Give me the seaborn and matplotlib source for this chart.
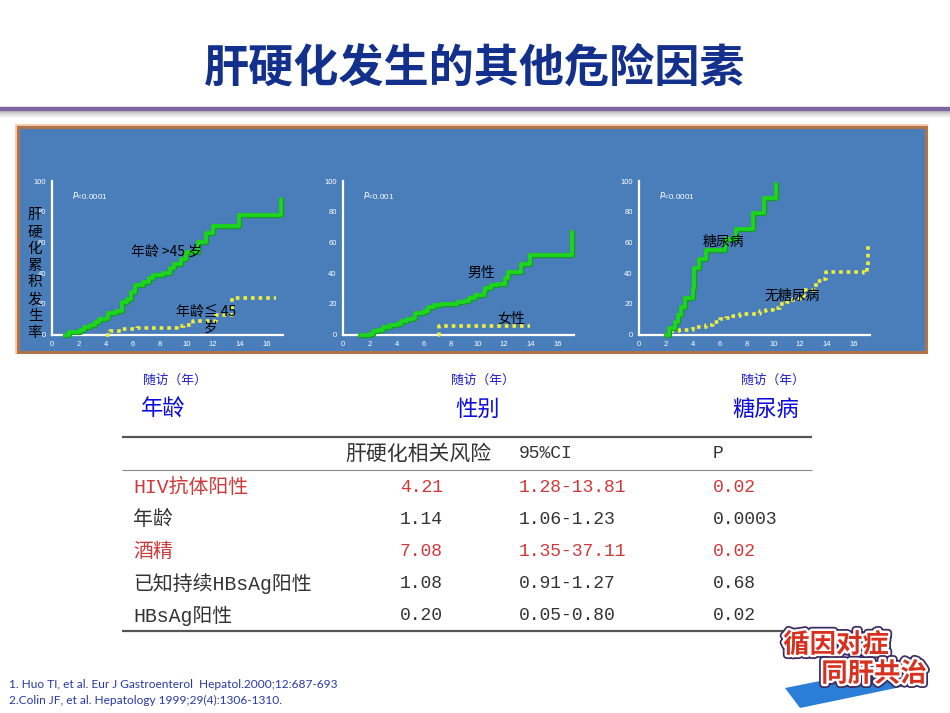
import matplotlib
matplotlib.use("Agg")
import matplotlib.pyplot as plt
import matplotlib.patheffects as pe
from matplotlib.patches import Rectangle, Polygon
import pandas as pd
import seaborn as sns

# ---------------- data ----------------
title = "肝硬化发生的其他危险因素"
ylabel_chars = "肝硬化累积发生率"
x_ticks = [0, 2, 4, 6, 8, 10, 12, 14, 16]
y_ticks = [0, 20, 40, 60, 80, 100]

# panel 1: age
age_gt45_t = [1.0, 1.3, 2.1, 2.4, 2.8, 3.2, 3.5, 4.0, 4.2, 4.8, 5.2, 5.6, 5.9, 6.2, 6.8,
              7.2, 7.5, 8.3, 8.8, 9.1, 9.6, 10.0, 10.9, 11.5, 12.0, 13.9, 17.1]
age_gt45_p = [0, 1.5, 3, 5, 6, 8, 10, 11, 14, 15, 21, 23, 28, 32, 34,
              37, 39, 40, 43, 46, 49, 54, 60, 66, 71, 78, 88]
age_le45_t = [4.05, 4.3, 5.2, 6.3, 8.8, 9.3, 9.8, 10.5, 12.2, 13.4, 16.7]
age_le45_p = [0, 2, 3.5, 4, 4.5, 5.5, 6.5, 8.5, 13, 24, 24]

# panel 2: sex
male_t = [1.25, 2.0, 2.2, 2.6, 3.0, 3.5, 4.0, 4.3, 4.8, 5.2, 5.4, 6.0, 6.3, 6.8, 7.3,
          8.5, 9.0, 9.4, 9.8, 10.5, 10.6, 11.0, 11.5, 12.1, 12.3, 13.3, 13.9, 17.1]
male_p = [0, 0.5, 2, 3, 5, 6, 7, 9, 10, 11, 14, 15, 18, 19, 20,
          21, 22, 24, 26, 28, 30, 32, 33, 37, 41, 46, 52, 67]
female_t = [7.1, 7.15, 13.9]
female_p = [0, 5.5, 5.5]

# panel 3: diabetes
dm_t = [2.0, 2.2, 2.7, 2.9, 3.1, 3.4, 4.0, 4.1, 4.5, 5.0, 6.4, 7.2, 8.5, 9.3, 10.2]
dm_p = [0, 4, 8, 13, 18, 24, 30, 43, 49, 55, 62, 69, 79, 89, 98]
nodm_t = [2.1, 2.3, 3.0, 4.0, 5.0, 5.5, 6.0, 6.5, 7.0, 7.5, 9.0, 9.5, 10.0, 10.5, 11.0,
          11.5, 12.0, 12.3, 13.2, 13.7, 13.9, 16.8, 17.0, 17.1]
nodm_p = [0, 2, 3, 5, 6, 8, 10, 11, 12, 13.5, 15, 16, 17, 20, 21,
          23, 25, 29, 35, 36, 41, 40, 45, 58]

panel_pvals = ["<0.0001", "<0.001", "<0.0001"]
panel_xlabel = "随访（年）"
panel_titles = ["年龄", "性别", "糖尿病"]

# table
table_header = ["肝硬化相关风险", "95%CI", "P"]
factors = ["HIV抗体阳性", "年龄", "酒精", "已知持续HBsAg阳性", "HBsAg阳性"]
rr = ["4.21", "1.14", "7.08", "1.08", "0.20"]
ci = ["1.28-13.81", "1.06-1.23", "1.35-37.11", "0.91-1.27", "0.05-0.80"]
pvals = ["0.02", "0.0003", "0.02", "0.68", "0.02"]
highlight = [True, False, True, False, False]

refs = ["1. Huo TI, et al. Eur J Gastroenterol  Hepatol.2000;12:687-693",
        "2.Colin JF, et al. Hepatology 1999;29(4):1306-1310."]
logo_lines = ["循因对症", "同肝共治"]

# ---------------- style ----------------
sns.set_theme(style="white")
plt.rcParams["font.family"] = ["Noto Sans CJK SC", "DejaVu Sans"]
plt.rcParams["axes.unicode_minus"] = False

W, H = 950, 713
fig = plt.figure(figsize=(9.5, 7.13), dpi=100)
fig.patch.set_facecolor("white")

# background axes in pixel coordinates
bg = fig.add_axes([0, 0, 1, 1], zorder=-1)
bg.set_xlim(0, W)
bg.set_ylim(H, 0)
bg.axis("off")

# title
bg.text(475, 69, title, ha="center", va="center", fontsize=32.5, fontweight="bold",
        color="#12308C")
# purple rule with shadow
for yy, col in [(112, "#C4C4C4"), (114, "#D8D8D8"), (116, "#EAEAEA")]:
    bg.plot([0, W], [yy, yy], color=col, lw=1.6, solid_capstyle="butt")
bg.plot([0, W], [109, 109], color="#7E679E", lw=3.2, solid_capstyle="butt")

# blue panel
bg.add_patch(Rectangle((16, 125), 911, 228, facecolor="none", edgecolor="#F0C49A", lw=1.2))
bg.add_patch(Rectangle((17.5, 126.5), 908, 225, facecolor="#4A7EBB", edgecolor="#B0734A", lw=2.2))

# ---------------- KM panels ----------------
green = "#1ED41E"
yellow = "#EEEE3C"
panels = [
    (52, (age_gt45_t, age_gt45_p), (age_le45_t, age_le45_p)),
    (343, (male_t, male_p), (female_t, female_p)),
    (639, (dm_t, dm_p), (nodm_t, nodm_p)),
]
x_per_unit = 13.42
y0_px, y100_px = 334.5, 181

axes = []
for i, (left_px, gcurve, ycurve) in enumerate(panels):
    xmax = 17.2
    ax = fig.add_axes([left_px / W, 1 - y0_px / H, xmax * x_per_unit / W, (y0_px - y100_px) / H],
                      zorder=1)
    ax.patch.set_alpha(0)
    dfg = pd.DataFrame({"t": gcurve[0], "p": gcurve[1]})
    dfy = pd.DataFrame({"t": ycurve[0], "p": ycurve[1]})
    sns.lineplot(data=dfy, x="t", y="p", ax=ax, drawstyle="steps-post", color=yellow,
                 lw=2.6, linestyle=(0, (1, 1.1)), dash_capstyle="butt",
                 estimator=None, sort=False, clip_on=False, zorder=3)
    sns.lineplot(data=dfg, x="t", y="p", ax=ax, drawstyle="steps-post", color=green,
                 lw=2.8, estimator=None, sort=False, clip_on=False, zorder=4,
                 path_effects=[pe.Stroke(linewidth=3.8, foreground="#159A2A"), pe.Normal()])
    ax.set_xlim(0, xmax)
    ax.set_ylim(0, 100)
    ax.set_xticks(x_ticks)
    ax.set_yticks(y_ticks)
    ax.set_xlabel("")
    ax.set_ylabel("")
    for s in ["top", "right"]:
        ax.spines[s].set_visible(False)
    for s in ["left", "bottom"]:
        ax.spines[s].set_color("white")
        ax.spines[s].set_linewidth(1.6)
    ax.tick_params(axis="both", colors="white", labelcolor="white", labelsize=5.5,
                   length=3, width=1, pad=1.5, direction="out")
    for lab in ax.get_xticklabels() + ax.get_yticklabels():
        lab.set_fontfamily("Liberation Sans")
    ax.text(1.5, 90.5, "$P$" + panel_pvals[i], color="white", fontsize=5.8,
            family="Liberation Sans", va="center")
    axes.append(ax)

lab_kw = dict(fontsize=10, color="black", ha="center", va="center", zorder=6)
axes[0].text(8.5, 54, "年龄 >45 岁", **lab_kw)
axes[0].text(11.5, 15, "年龄≦ 45", **lab_kw)
axes[0].text(11.8, 4.5, "岁", **lab_kw)
axes[1].text(10.3, 40, "男性", **lab_kw)
axes[1].text(12.5, 10, "女性", **lab_kw)
axes[2].text(6.3, 60.5, "糖尿病", **lab_kw)
axes[2].text(11.4, 25.5, "无糖尿病", **lab_kw)

# vertical y label (overlapping panel 1 axis, as in the reference)
fig.text(35 / W, 1 - 274 / H, "\n".join(ylabel_chars), fontsize=10.5, color="black",
         ha="center", va="center", linespacing=1.26, zorder=10)

# under-panel labels
for cx, name_x, name in zip([175, 483, 773], [163, 478, 766], panel_titles):
    bg.text(cx, 380, panel_xlabel, ha="center", va="center", fontsize=9.2, color="#1A1ACC")
    bg.text(name_x, 409, name, ha="center", va="center", fontsize=16, color="#0A0ADD")

# ---------------- table ----------------
tfam = ["Liberation Mono", "Noto Sans CJK SC"]
bg.plot([122, 812], [437, 437], color="#555555", lw=1.6, solid_capstyle="butt")
bg.plot([122, 812], [470, 470], color="#888888", lw=0.8, solid_capstyle="butt")
bg.plot([122, 812], [631, 631], color="#555555", lw=1.6, solid_capstyle="butt")
for txt, x, fs in zip(table_header, [345, 519, 713], [15, 13, 13]):
    bg.text(x, 454, txt, ha="left", va="center", fontsize=fs, color="#333333", family=tfam)
row_y = [487, 519, 551, 584, 616]
for y, f, r, c, p, hl in zip(row_y, factors, rr, ci, pvals, highlight):
    col = "#D0393B" if hl else "#333333"
    bg.text(133, y, f, ha="left", va="center", fontsize=14.3, color=col, family=tfam)
    for txt, x in zip([r, c, p], [400, 519, 713]):
        bg.text(x, y, txt, ha="left", va="center", fontsize=13, color=col, family=tfam)

# references
for k, ref in enumerate(refs):
    bg.text(9, 684 + k * 16, ref, ha="left", va="center", fontsize=8.6, color="#2838A8",
            family="Lato")

# logo
bg.add_patch(Polygon([(785, 688), (905, 664), (925, 682), (800, 708)], closed=True,
                     facecolor="#2A7ED8", edgecolor="none"))
logo_fx = [pe.Stroke(linewidth=6, foreground="#3A2A60"), pe.Stroke(linewidth=3.5, foreground="white"),
           pe.Normal()]
bg.text(836, 645, logo_lines[0], ha="center", va="center", fontsize=19, fontweight="black",
        color="#D8301E", path_effects=logo_fx)
bg.text(874, 674, logo_lines[1], ha="center", va="center", fontsize=19, fontweight="black",
        color="#D8301E", path_effects=logo_fx)

fig.savefig("out.png", dpi=100)
